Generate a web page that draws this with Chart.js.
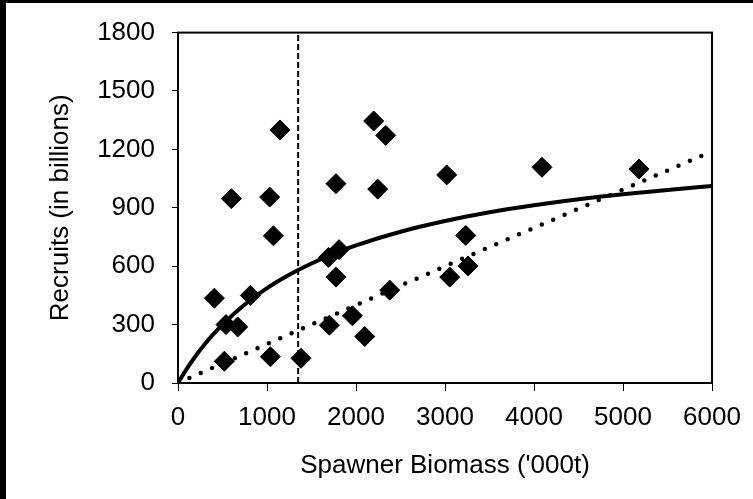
<!DOCTYPE html>
<html>
<head>
<meta charset="utf-8">
<script src="https://cdn.jsdelivr.net/npm/chart.js@4/dist/chart.umd.min.js"></script>
<style>
  html, body { margin: 0; padding: 0; background: #ffffff; }
  #wrap { position: relative; width: 753px; height: 499px; }
</style>
</head>
<body>
<div id="wrap"><canvas id="c" width="753" height="499"></canvas></div>
<script>
// Observed stock–recruitment pairs
const spawnerBiomass = [1146, 1775, 600, 1030, 1072, 409, 813, 539, 671, 521, 1038, 1382, 1775, 1690, 1810, 1701, 1960, 2098, 2379, 3053, 3258, 2199, 2334, 2244, 3019, 3233, 4090, 5180];
const recruits       = [1300, 1024, 947, 955, 756, 436, 450, 300, 288, 112, 135, 127, 544, 645, 685, 297, 345, 239, 477, 544, 601, 1346, 1272, 996, 1069, 758, 1108, 1099];

// Fitted curve (solid)
const curveBiomass  = [0, 50, 100, 200, 300, 400, 500, 750, 1000, 1250, 1500, 1750, 2000, 2500, 3000, 3500, 4000, 4500, 5000, 5500, 6000];
const curveRecruits = [0, 38, 74, 140, 199, 252, 300, 403, 487, 556, 614, 664, 707, 777, 832, 877, 913, 944, 970, 992, 1012];

// Replacement line (dotted)
const lineBiomass  = [0, 1500, 3000, 4500, 6000];
const lineRecruits = [0, 300, 600, 895, 1190];

// Reference biomass (dashed vertical)
const refBiomass = [1350, 1350];
const refRecruits = [0, 1800];

const xMin = 0, xMax = 6000, xStep = 1000;
const yMin = 0, yMax = 1800, yStep = 300;
const xTitle = "Spawner Biomass ('000t)";
const yTitle = "Recruits (in billions)";

const pts = (xs, ys) => xs.map((x, i) => ({ x: x, y: ys[i] }));
const FONT = "'Liberation Sans', Arial, sans-serif";

const framePlugin = {
  id: 'frame',
  beforeDraw(chart) {
    const ctx = chart.ctx;
    ctx.save();
    ctx.fillStyle = '#ffffff';
    ctx.fillRect(0, 0, chart.width, chart.height);
    ctx.fillStyle = '#000000';
    ctx.fillRect(0, 0, 6, chart.height);
    ctx.fillRect(0, 0, chart.width, 3);
    ctx.restore();
  },
  afterDraw(chart) {
    const a = chart.chartArea;
    const ctx = chart.ctx;
    ctx.save();
    ctx.strokeStyle = '#000000';
    ctx.lineWidth = 2;
    ctx.strokeRect(a.left, a.top, a.right - a.left, a.bottom - a.top);
    ctx.restore();
  }
};

new Chart(document.getElementById('c'), {
  type: 'scatter',
  data: {
    datasets: [
      {
        label: 'Observed',
        data: pts(spawnerBiomass, recruits),
        pointStyle: 'rectRot',
        pointRadius: 10,
        pointBackgroundColor: '#000000',
        pointBorderColor: '#000000',
        pointBorderWidth: 1,
        showLine: false,
        order: 0
      },
      {
        label: 'Fit',
        data: pts(curveBiomass, curveRecruits),
        showLine: true,
        borderColor: '#000000',
        borderWidth: 4,
        pointRadius: 0,
        cubicInterpolationMode: 'monotone',
        order: 1
      },
      {
        label: 'Replacement',
        data: pts(lineBiomass, lineRecruits),
        showLine: true,
        borderColor: '#000000',
        borderWidth: 4.5,
        borderDash: [0, 12.4],
        borderCapStyle: 'round',
        pointRadius: 0,
        order: 2
      },
      {
        label: 'Reference',
        data: pts(refBiomass, refRecruits),
        showLine: true,
        borderColor: '#000000',
        borderWidth: 2,
        borderDash: [6, 3],
        pointRadius: 0,
        order: 3
      }
    ]
  },
  options: {
    responsive: false,
    animation: false,
    layout: { padding: { top: 19, right: 41, left: 0, bottom: 0 } },
    plugins: { legend: { display: false }, tooltip: { enabled: false } },
    scales: {
      x: {
        type: 'linear',
        min: xMin, max: xMax,
        ticks: { stepSize: xStep, color: '#000000', font: { family: FONT, size: 26 }, padding: 11, maxRotation: 0,
                 callback: (v) => String(v) },
        grid: { drawOnChartArea: false, drawTicks: true, tickLength: 8, color: '#000000', lineWidth: 1 },
        border: { display: true, color: '#000000', width: 2 },
        title: { display: true, text: xTitle, color: '#000000', font: { family: FONT, size: 26 }, padding: { top: 18, bottom: 18 } },
        afterFit(scale) { scale.height = 116; }
      },
      y: {
        type: 'linear',
        min: yMin, max: yMax,
        ticks: { stepSize: yStep, color: '#000000', font: { family: FONT, size: 26 }, padding: 17,
                 callback: (v) => String(v) },
        grid: { drawOnChartArea: false, drawTicks: true, tickLength: 6, color: '#000000', lineWidth: 1 },
        border: { display: true, color: '#000000', width: 2 },
        title: { display: true, text: yTitle, color: '#000000', font: { family: FONT, size: 26 }, padding: { top: 45, bottom: 45 } },
        afterFit(scale) { scale.width = 178; }
      }
    }
  },
  plugins: [framePlugin]
});
</script>
</body>
</html>
